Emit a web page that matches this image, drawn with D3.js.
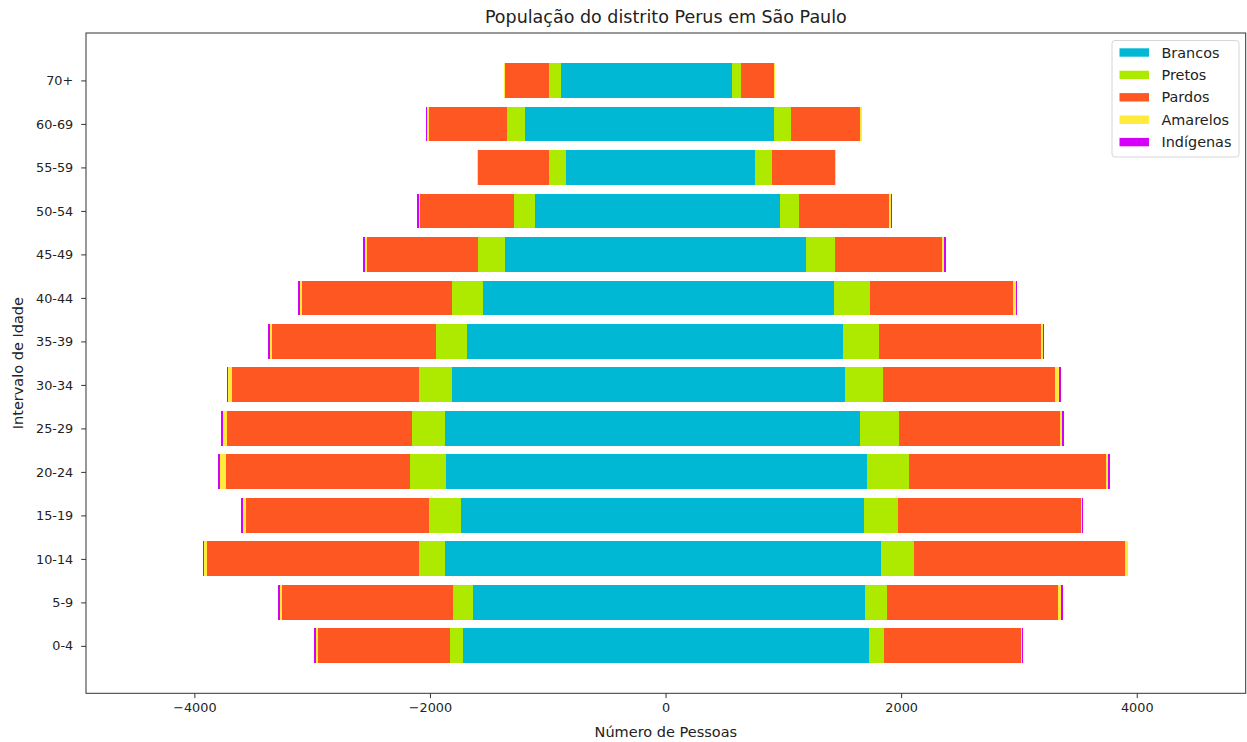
<!DOCTYPE html>
<html>
<head>
<meta charset="utf-8">
<script src="https://cdn.jsdelivr.net/npm/d3@7"></script>
<style>
  html, body { margin: 0; padding: 0; background: #fff; }
  svg { display: block; font-family: "DejaVu Sans", sans-serif; }
</style>
</head>
<body>
<svg id="chart" width="1247" height="742"></svg>
<script>
// Age groups, bottom to top
const ageGroups = ["0-4","5-9","10-14","15-19","20-24","25-29","30-34","35-39","40-44","45-49","50-54","55-59","60-69","70+"];
const seriesNames = ["Brancos","Pretos","Pardos","Amarelos","Indígenas"];
const seriesColors = ["#00B8D4","#AEEA00","#FF5722","#FFEB3B","#D500F9"];

// Men (left side, drawn as negative)
const brancosH   = [1716,1634,1872,1733,1863,1872,1815,1683,1552,1365,1108, 845,1190, 885];
const pretosH    = [ 110, 167, 223, 274, 308, 283, 280, 263, 263, 227, 181, 147, 155, 107];
const pardosH    = [1126,1452,1795,1553,1562,1570,1585,1397,1271, 942, 793, 603, 665, 377];
const amarelosH  = [  14,  20,  34,  25,  46,  34,  37,  14,  17,  17,  14,   4,  23,   5];
const indigenasH = [  17,  17,   3,  17,  17,  14,   5,  17,  14,  14,  14,   0,   2,   0];

// Women (right side)
const brancosM   = [1725,1691,1827,1683,1708,1651,1521,1509,1428,1190, 972, 762, 924, 562];
const pretosM    = [ 130, 189, 280, 289, 357, 329, 323, 306, 306, 246, 164, 139, 142,  81];
const pardosM    = [1163,1454,1796,1553,1675,1372,1463,1373,1219, 913, 761, 537, 586, 278];
const amarelosM  = [   6,  20,  20,  14,  17,  14,  34,  17,  20,  14,  17,  11,  14,  11];
const indigenasM = [  11,  17,   0,   3,  14,  14,  17,   8,   5,  14,   3,   0,   0,   0];

const xTicks = [-4000,-2000,0,2000,4000];

const menSeries = [brancosH, pretosH, pardosH, amarelosH, indigenasH];
const womenSeries = [brancosM, pretosM, pardosM, amarelosM, indigenasM];

const svg = d3.select("#chart");
const plot = {left: 86, right: 1245.7, top: 33, bottom: 693.3};

const x = d3.scaleLinear().domain([-4920, 4925]).range([plot.left, plot.right]);
const y = d3.scaleLinear().domain([-1.09, ageGroups.length - 1 + 1.09]).range([plot.bottom, plot.top]);
const barH = Math.abs(y(0.8) - y(0));

const g = svg.append("g").attr("shape-rendering", "crispEdges");

function drawSide(seriesList, sign) {
  ageGroups.forEach((grp, i) => {
    let cum = 0;
    seriesList.forEach((arr, s) => {
      const v = arr[i];
      const a = sign * cum, b = sign * (cum + v);
      cum += v;
      if (v <= 0) return;
      g.append("rect")
        .attr("x", x(Math.min(a, b)))
        .attr("width", Math.max(1, Math.abs(x(b) - x(a))))
        .attr("y", y(i) - barH / 2)
        .attr("height", barH)
        .attr("fill", seriesColors[s]);
    });
  });
}
drawSide(menSeries, -1);
drawSide(womenSeries, 1);

// Axes
const fmt = d3.format("d");
const xAxis = d3.axisBottom(x).tickValues(xTicks).tickFormat(d => fmt(d)).tickSizeOuter(0).tickSize(4.8).tickPadding(5);
const xg = svg.append("g").attr("transform", `translate(0,${plot.bottom})`).call(xAxis);
const yAxis = d3.axisLeft(y).tickValues(d3.range(ageGroups.length)).tickFormat(i => ageGroups[i]).tickSizeOuter(0).tickSize(4.8).tickPadding(8);
const yg = svg.append("g").attr("transform", `translate(${plot.left},0)`).call(yAxis);
[xg, yg].forEach(a => {
  a.select(".domain").remove();
  a.selectAll("text").attr("font-size", "12.8px").attr("font-family", "DejaVu Sans, sans-serif").attr("fill", "#222");
  a.selectAll("line").attr("stroke", "#333");
});

// Frame
svg.append("rect")
  .attr("x", plot.left).attr("y", plot.top)
  .attr("width", plot.right - plot.left).attr("height", plot.bottom - plot.top)
  .attr("fill", "none").attr("stroke", "#333").attr("stroke-width", 1);

// Title & labels
svg.append("text").attr("x", (plot.left + plot.right) / 2).attr("y", 23)
  .attr("text-anchor", "middle").attr("font-size", "17.5px").attr("fill", "#222")
  .text("População do distrito Perus em São Paulo");
svg.append("text").attr("x", (plot.left + plot.right) / 2).attr("y", 737)
  .attr("text-anchor", "middle").attr("font-size", "14.5px").attr("fill", "#222")
  .text("Número de Pessoas");
svg.append("text")
  .attr("transform", `translate(23,${(plot.top + plot.bottom) / 2}) rotate(-90)`)
  .attr("text-anchor", "middle").attr("font-size", "14.5px").attr("fill", "#222")
  .text("Intervalo de Idade");

// Legend
const leg = svg.append("g").attr("transform", "translate(1112,40.5)");
leg.append("rect").attr("x", 0).attr("y", 0).attr("width", 127).attr("height", 116.5)
  .attr("rx", 3).attr("fill", "#fff").attr("fill-opacity", 0.8).attr("stroke", "#d6d6d6");
seriesNames.forEach((n, i) => {
  const yy = 12 + i * 22.4;
  leg.append("rect").attr("x", 7.5).attr("y", yy - 4.2).attr("width", 29.5).attr("height", 8.4).attr("fill", seriesColors[i]);
  leg.append("text").attr("x", 49.5).attr("y", yy + 5).attr("font-size", "14.4px").attr("fill", "#222").text(n);
});
</script>
</body>
</html>
